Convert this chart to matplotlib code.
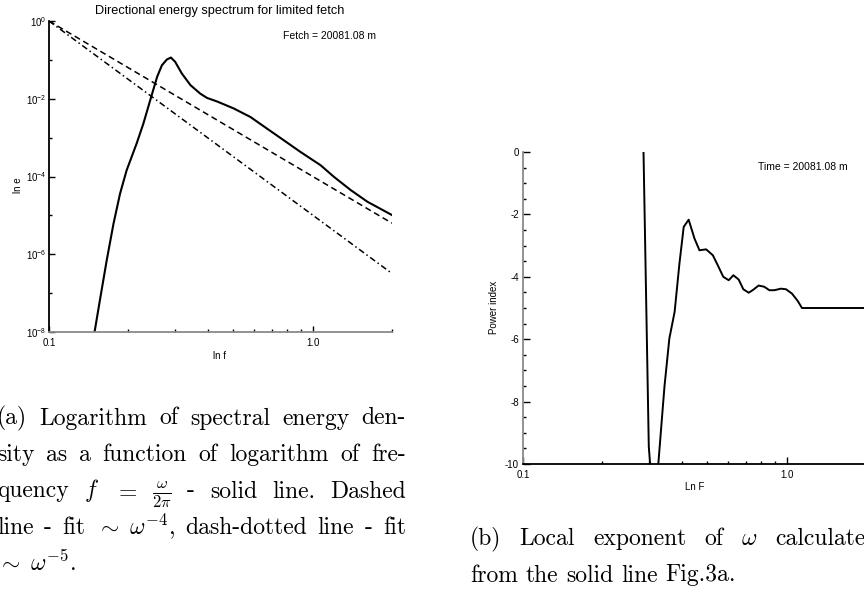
import matplotlib
matplotlib.use('Agg')
import matplotlib.pyplot as plt
import numpy as np

plt.rcParams['font.family'] = ['Liberation Sans', 'DejaVu Sans']

# (a) spectrum: frequency and log10 of energy
spec_freq = [0.1487, 0.156, 0.1656, 0.1757, 0.186, 0.197, 0.215, 0.228, 0.242,
             0.257, 0.268, 0.280, 0.290, 0.301, 0.319, 0.344, 0.375, 0.398,
             0.434, 0.502, 0.581, 0.672, 0.778, 0.900, 1.072, 1.205, 1.395,
             1.614, 2.01]
spec_log_energy = [-8.02, -7.18, -6.15, -5.21, -4.44, -3.84, -3.15, -2.64, -2.04,
                   -1.44, -1.14, -0.99, -0.94, -1.05, -1.35, -1.65, -1.87, -1.98,
                   -2.07, -2.25, -2.47, -2.77, -3.07, -3.37, -3.71, -4.01, -4.35,
                   -4.65, -5.0]
# fits (straight lines in log-log): end points
fit_freq = [0.1, 2.0]
fit4_energy = [1.0, 6.3e-6]
fit5_energy = [1.0, 3.2e-7]

# (b) local exponent
idx_freq = [0.2865, 0.300, 0.306, 0.316, 0.326, 0.344, 0.359, 0.376, 0.392, 0.407,
            0.425, 0.447, 0.467, 0.495, 0.525, 0.548, 0.575, 0.603, 0.628, 0.658,
            0.685, 0.718, 0.743, 0.783, 0.823, 0.860, 0.898, 0.952, 0.995, 1.048,
            1.101, 1.143, 2.0]
idx_power = [0.0, -9.44, -10.4, -10.6, -10.0, -7.52, -5.98, -5.12, -3.58, -2.40,
             -2.17, -2.77, -3.15, -3.12, -3.31, -3.63, -4.00, -4.11, -3.95, -4.09,
             -4.40, -4.51, -4.43, -4.28, -4.32, -4.43, -4.43, -4.38, -4.40, -4.54,
             -4.77, -5.0, -5.0]

W, H = 864, 600
fig = plt.figure(figsize=(8.64, 6), dpi=100)


def fx(x):
    return x / W


def fy(y):
    return 1 - y / H


GRAY = '#8a8a8a'
TFS = 7

# ---------- left panel ----------
ax1 = fig.add_axes([fx(49), fy(332), 343 / W, 311 / H])
ax1.plot(spec_freq, 10.0 ** np.array(spec_log_energy), color='black', lw=1.5)
ax1.plot(fit_freq, fit4_energy, color='black', lw=1.1, dashes=(4, 2.5))
ax1.plot(fit_freq, fit5_energy, color='black', lw=1.1, dashes=(4, 2, 1, 2))
ax1.set_xscale('log')
ax1.set_yscale('log')
ax1.set_xlim(0.1, 2.0)
ax1.set_ylim(1e-8, 1.0)
ax1.set_yticks([1.0, 1e-2, 1e-4, 1e-6, 1e-8])
ax1.set_yticklabels([r'$\mathregular{10^{0}}$', r'$\mathregular{10^{-2}}$',
                     r'$\mathregular{10^{-4}}$', r'$\mathregular{10^{-6}}$',
                     r'$\mathregular{10^{-8}}$'])
ax1.set_yticks([1e-1, 1e-3, 1e-5, 1e-7], minor=True)
ax1.set_yticklabels([], minor=True)
ax1.set_xticks([0.1, 1.0])
ax1.set_xticklabels(['0.1', '1.0'])
ax1.set_xticks([0.2, 0.3, 0.4, 0.5, 0.6, 0.7, 0.8, 0.9, 2.0], minor=True)
ax1.set_xticklabels([], minor=True)
ax1.tick_params(which='both', direction='in', labelsize=TFS, width=1.0)
ax1.tick_params(axis='y', which='major', length=4, pad=2)
ax1.tick_params(axis='y', which='minor', length=2.5)
ax1.tick_params(axis='x', which='major', length=4, pad=4)
ax1.tick_params(axis='x', which='minor', length=2.5)
for s in ['top', 'right']:
    ax1.spines[s].set_visible(False)
ax1.spines['left'].set_linewidth(1.3)
ax1.spines['bottom'].set_linewidth(1.3)
ax1.spines['bottom'].set_color(GRAY)
ax1.set_ylabel('ln e', fontsize=TFS)
ax1.yaxis.set_label_coords(-0.076, 0.473)
ax1.set_xlabel('ln f', fontsize=TFS)
ax1.xaxis.set_label_coords(0.4985, -0.060)

fig.text(fx(220), fy(11), 'Directional energy spectrum for limited fetch',
         fontsize=9.2, ha='center', va='center')
fig.text(fx(283), fy(36), 'Fetch = 20081.08 m', fontsize=7.5, ha='left', va='center')

# ---------- right panel ----------
ax2 = fig.add_axes([fx(523), fy(464), 343 / W, 312 / H])
ax2.plot(idx_freq, idx_power, color='black', lw=1.4)
ax2.set_xscale('log')
ax2.set_xlim(0.1, 2.0)
ax2.set_ylim(-10, 0)
ax2.set_yticks([0, -2, -4, -6, -8, -10])
ax2.set_yticklabels(['0', '-2', '-4', '-6', '-8', '-10'])
ax2.set_yticks(np.arange(-9.5, 0, 0.5), minor=True)
ax2.set_xticks([0.1, 1.0])
ax2.set_xticklabels(['0.1', '1.0'])
ax2.set_xticks([0.2, 0.3, 0.4, 0.5, 0.6, 0.7, 0.8, 0.9, 2.0], minor=True)
ax2.set_xticklabels([], minor=True)
ax2.tick_params(which='both', direction='in', labelsize=TFS, width=1.0)
ax2.tick_params(axis='y', which='major', length=5, pad=3)
ax2.tick_params(axis='y', which='minor', length=2.5)
ax2.tick_params(axis='x', which='major', length=5, pad=4)
ax2.tick_params(axis='x', which='minor', length=2.5)
for s in ['top', 'right']:
    ax2.spines[s].set_visible(False)
ax2.spines['left'].set_linewidth(1.3)
ax2.spines['left'].set_color(GRAY)
ax2.spines['bottom'].set_linewidth(1.3)
ax2.set_ylabel('Power index', fontsize=TFS)
ax2.yaxis.set_label_coords(-0.07, 0.503)
ax2.set_xlabel('Ln F', fontsize=TFS)
ax2.xaxis.set_label_coords(0.501, -0.0576)

fig.text(fx(758), fy(167), 'Time = 20081.08 m', fontsize=7.5, ha='left', va='center')

# ---------- captions (justified, Computer Modern) ----------
CFS = 17
renderer = fig.canvas.get_renderer()


def caption_line(words, x0, x1, y, last=False):
    objs = [fig.text(0, 0, w, fontsize=CFS, family='cmr10', math_fontfamily='cm',
                     va='baseline', ha='left') for w in words]
    widths = [o.get_window_extent(renderer).width for o in objs]
    if last or len(words) == 1:
        gap = 0.33 * CFS * 100 / 72
    else:
        gap = (x1 - x0 - sum(widths)) / (len(words) - 1)
    x = x0
    for o, w in zip(objs, widths):
        o.set_position((fx(x), fy(y)))
        x += w + gap


left_caption = [
    ['(a)', 'Logarithm', 'of', 'spectral', 'energy', 'den-'],
    ['sity', 'as', 'a', 'function', 'of', 'logarithm', 'of', 'fre-'],
    ['quency', r'$f$', r'$=$', r'$\frac{\omega}{2\pi}$', '-', 'solid', 'line.', 'Dashed'],
    ['line', '-', 'fit', r'$\sim\ \omega^{-4}$,', 'dash-dotted', 'line', '-', 'fit'],
    [r'$\sim\ \omega^{-5}$.'],
]
right_caption = [
    ['(b)', 'Local', 'exponent', 'of', r'$\omega$', 'calculated'],
    ['from', 'the', 'solid', 'line', 'Fig.3a.'],
]

left_base = [424.5, 461, 497.5, 534, 570.5]
for i, (words, yb) in enumerate(zip(left_caption, left_base)):
    caption_line(words, -3, 406, yb, last=(i == len(left_caption) - 1))

right_base = [545, 581.5]
for i, (words, yb) in enumerate(zip(right_caption, right_base)):
    caption_line(words, 470, 879, yb, last=(i == len(right_caption) - 1))

fig.savefig('out.png', dpi=100)
